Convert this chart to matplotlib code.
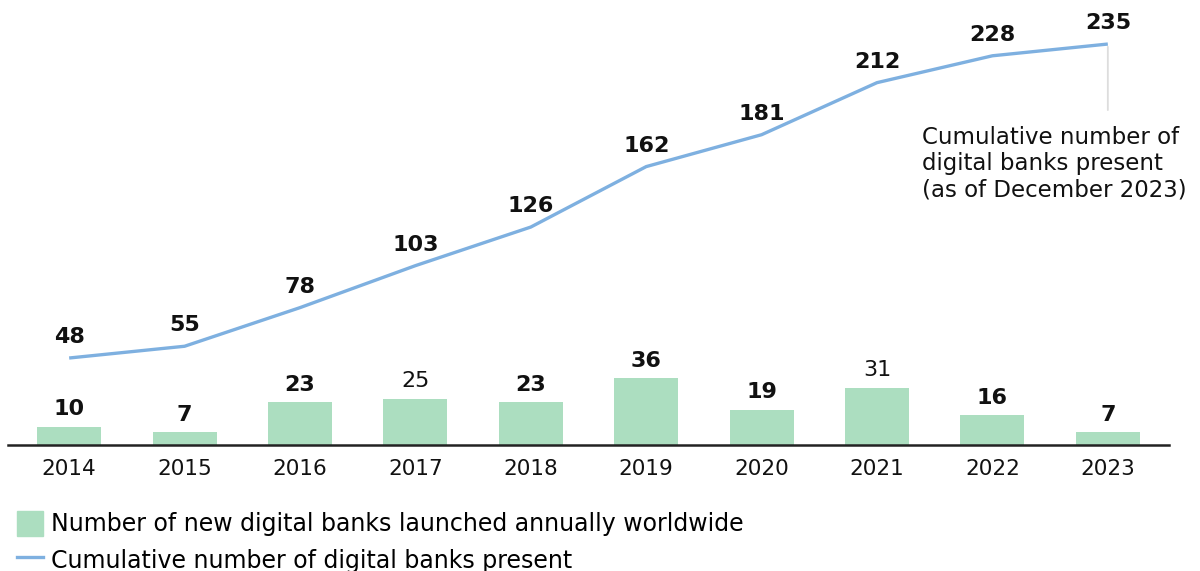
import numpy as np
import matplotlib.pyplot as plt
from matplotlib.patches import Patch
from matplotlib.lines import Line2D

plt.rcParams['font.family'] = ['DejaVu Sans']

years = ['2014', '2015', '2016', '2017', '2018', '2019', '2020', '2021', '2022', '2023']
new_banks = [10, 7, 23, 25, 23, 36, 19, 31, 16, 7]
cumulative = [48, 55, 78, 103, 126, 162, 181, 212, 228, 235]
new_bold = [True, True, True, False, True, True, True, False, True, True]

bar_color = '#acdec0'
line_color = '#7eb0e0'
note = 'Cumulative number of\ndigital banks present\n(as of December 2023)'
legend_bar = 'Number of new digital banks launched annually worldwide'
legend_line = 'Cumulative number of digital banks present'

W, H = 1200, 571
fig = plt.figure(figsize=(W / 100, H / 100), dpi=100)
# axes box in pixels: x 8..1169, y 10..445 (from top)
ax = fig.add_axes([8 / W, (H - 445) / H, (1169 - 8) / W, 435 / H])
ax2 = ax.twinx()

x = np.arange(len(years))
ax.bar(x, new_banks, width=0.555, color=bar_color, zorder=2)
ax.set_xlim(-0.53, 9.53)
ax.set_ylim(0, 435 / 1.85)

for xi, v, b in zip(x, new_banks, new_bold):
    ax.annotate(str(v), (xi, v), xytext=(0, 12.5), textcoords='offset points',
                ha='center', va='center', fontsize=16,
                fontweight='bold' if b else 'normal', color='#111111')

ax2.plot(x, cumulative, color=line_color, lw=2.4, solid_capstyle='butt', zorder=3)
ax2.set_ylim(-(445 - 438.6) / 1.679, (438.6 - 10) / 1.679)
for xi, v in zip(x, cumulative):
    ax2.annotate(str(v), (xi, v), xytext=(0, 15), textcoords='offset points',
                 ha='center', va='center', fontsize=16, fontweight='bold',
                 color='#111111')

# leader line from the last point down to the note
last = cumulative[-1]
ax2.annotate('', xy=(x[-1], last), xytext=(x[-1], last - 41),
             arrowprops=dict(arrowstyle='-', color='#dddddd', lw=1.3))
ax2.annotate(note, (x[-1], last), xytext=(-134, -59), textcoords='offset points',
             ha='left', va='top', fontsize=16.5, color='#111111',
             linespacing=1.17, annotation_clip=False)

for a in (ax, ax2):
    for s in ['top', 'right', 'left']:
        a.spines[s].set_visible(False)
    a.set_yticks([])
ax.spines['bottom'].set_color('#222222')
ax.spines['bottom'].set_linewidth(1.8)
ax2.spines['bottom'].set_visible(False)
ax.set_xticks(x)
ax.set_xticklabels(years, fontsize=15.5, color='#111111')
ax.tick_params(axis='x', length=0, pad=10)

handles = [Patch(color=bar_color), Line2D([], [], color=line_color, lw=2.4)]
fig.legend(handles, [legend_bar, legend_line], loc='lower left',
           bbox_to_anchor=(3 / W, -16 / H), frameon=False, fontsize=17,
           handlelength=1.1, handleheight=1.3, handletextpad=0.35,
           labelspacing=0.45, borderaxespad=0.2)

fig.savefig('out.png', dpi=100)
